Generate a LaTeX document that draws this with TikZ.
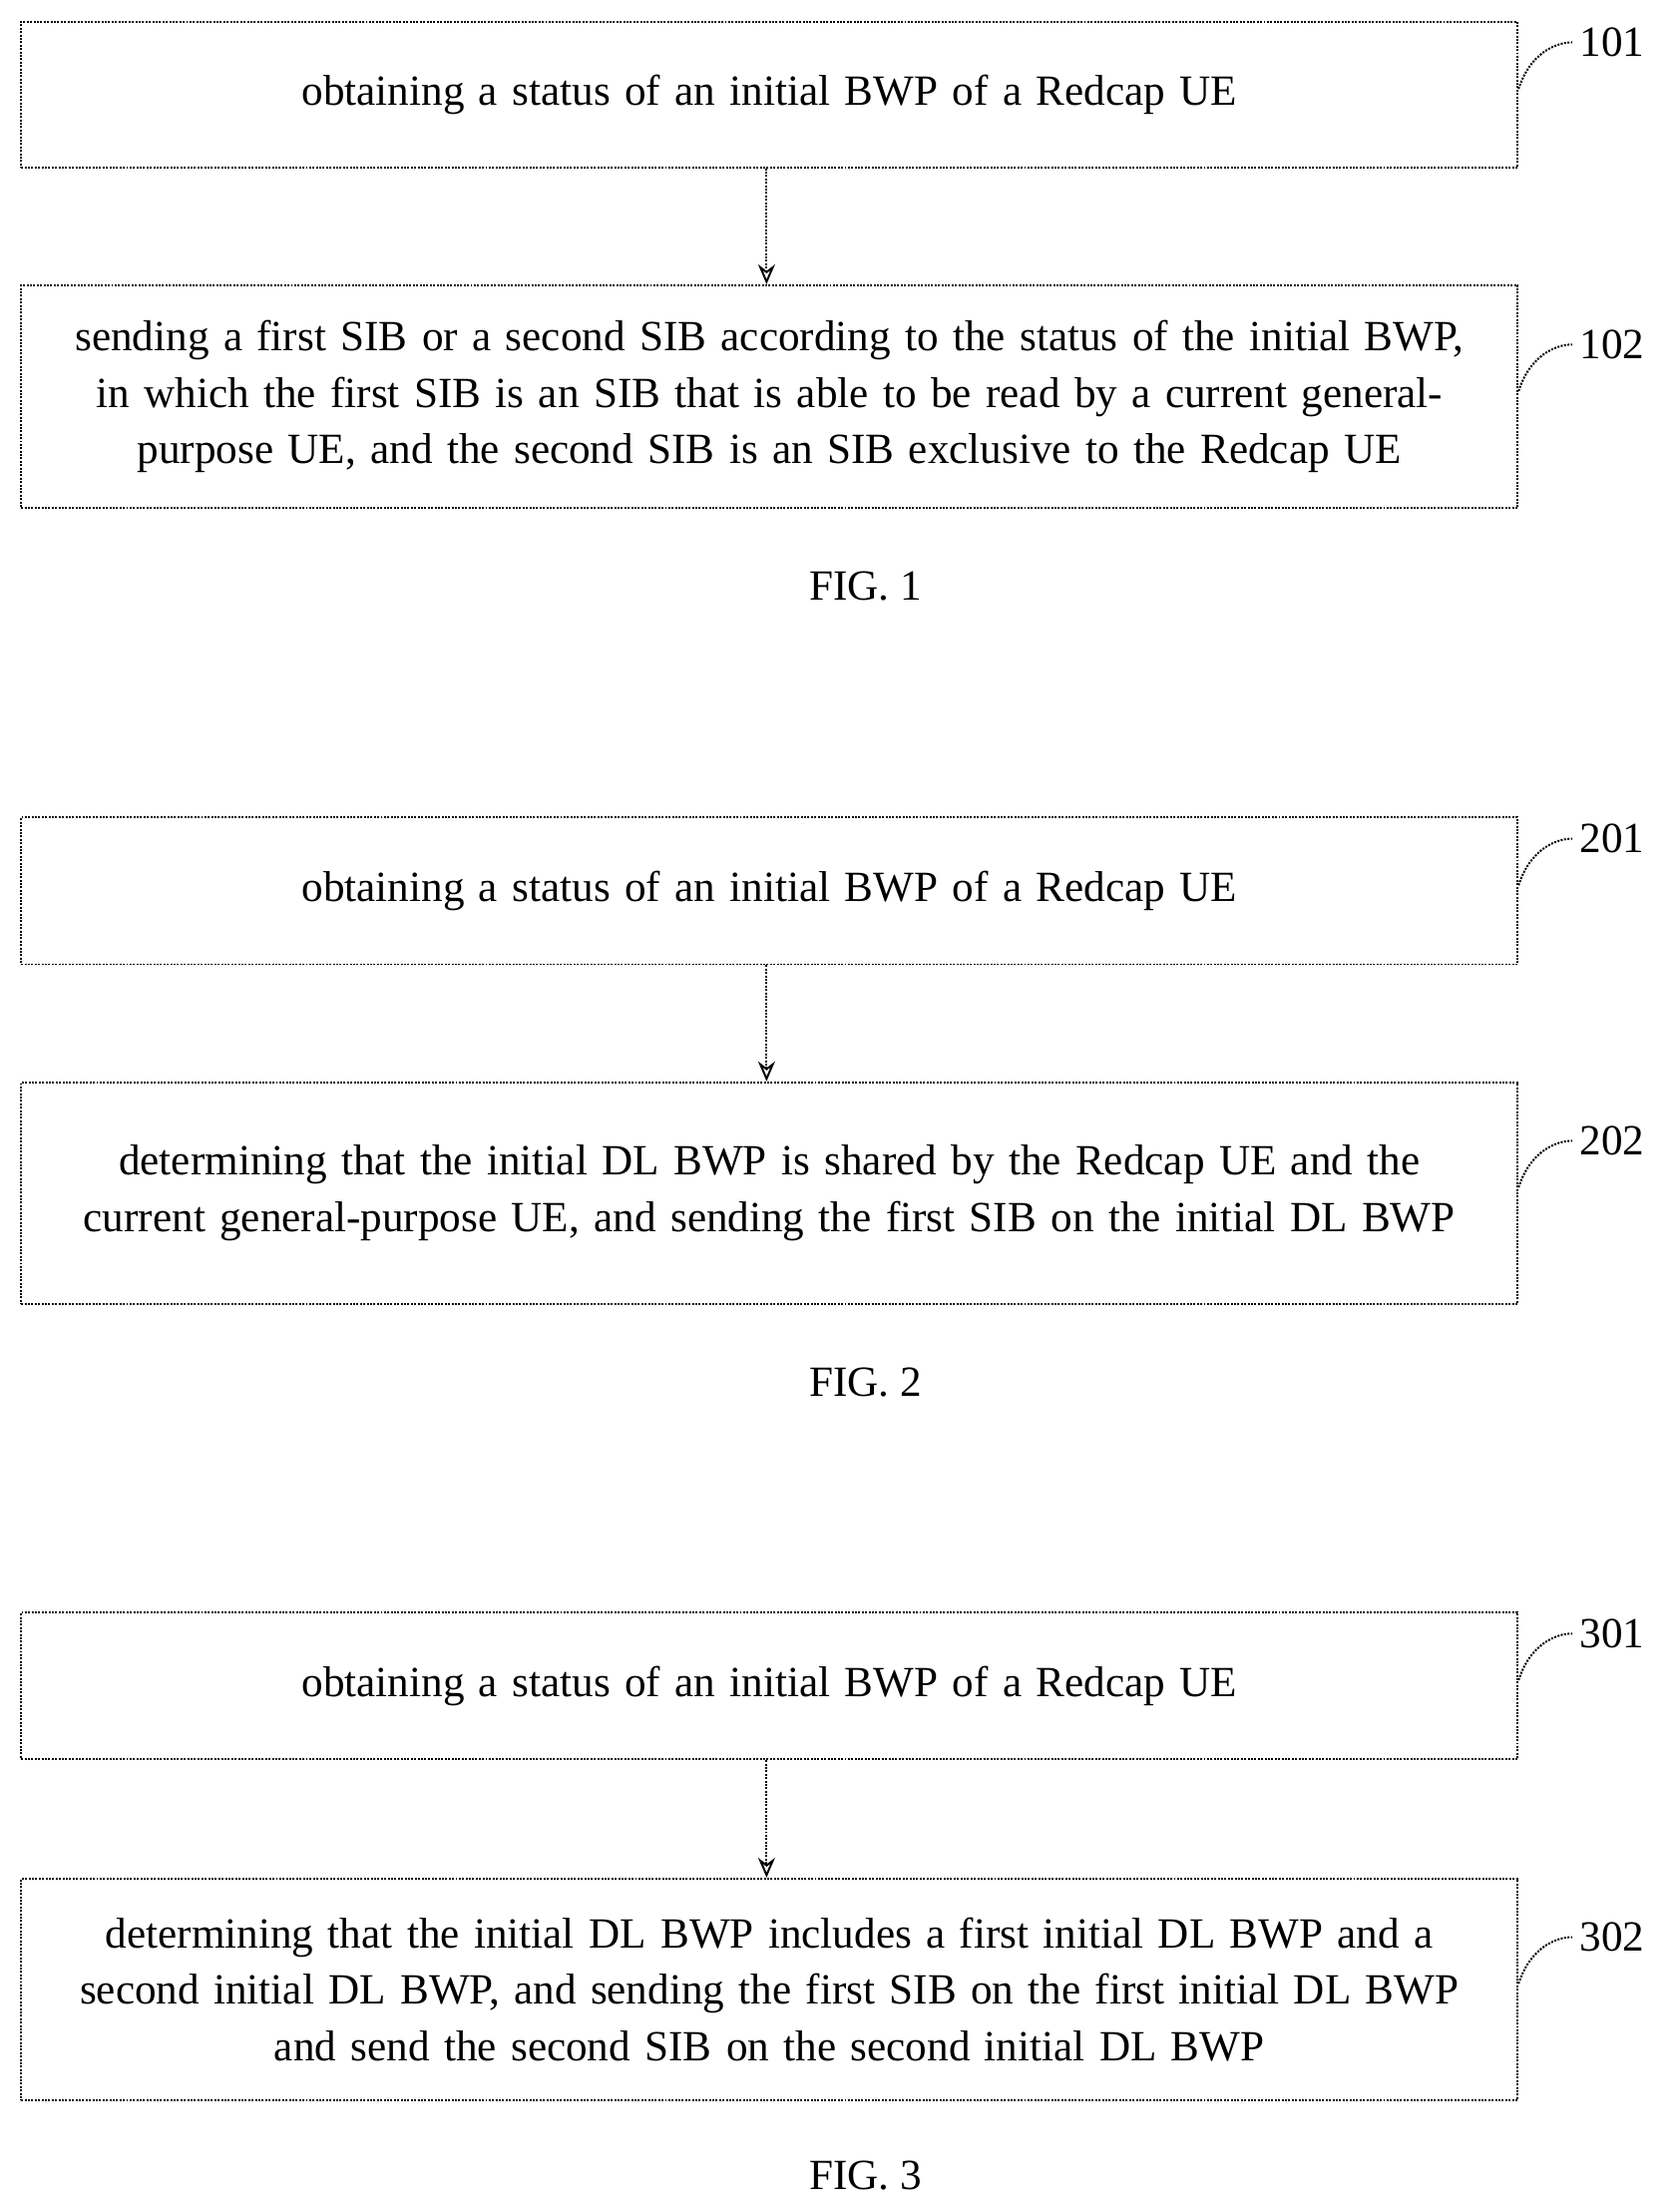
\documentclass[tikz,border=0pt]{standalone}
\usepackage{fontspec}
\setmainfont{Liberation Serif}
\usetikzlibrary{arrows.meta, positioning}
\tikzset{
  stepbox/.style={draw, densely dotted, line width=1.4pt, minimum width=1060pt, text width=1050pt, align=center, inner sep=0pt, font=\fontsize{30.5}{40}\selectfont},
  flow/.style={densely dotted, line width=1.4pt, -{Stealth[length=14pt,width=12pt,open]}},
  tag/.style={font=\fontsize{30.5}{34}\selectfont, anchor=west},
  figcap/.style={font=\fontsize{30.5}{34}\selectfont}
}
\newcommand{\steptag}[2]{%
  \draw[densely dotted, line width=1.4pt] (#1.east) ++(0,4pt) .. controls +(8pt,25pt) and +(-12pt,0pt) .. +(38pt,33pt) coordinate (#1t);
  \node[tag] at ([xshift=2pt]#1t) {#2};
}
\begin{document}
\begin{tikzpicture}[x=1pt,y=-1pt]
  \useasboundingbox (0,0) rectangle (1190,1566);
  % FIG. 1
  \node[stepbox, minimum height=103pt] (s101) at (545,67) {obtaining a status of an initial BWP of a Redcap UE};
  \node[stepbox, minimum height=158pt] (s102) at (545,281) {sending a first SIB or a second SIB according to the status of the initial BWP,\\ in which the first SIB is an SIB that is able to be read by a current general-\\purpose UE, and the second SIB is an SIB exclusive to the Redcap UE};
  \draw[flow] (s101.south -| 543,0) -- (s102.north -| 543,0);
  \steptag{s101}{101}
  \steptag{s102}{102}
  \node[figcap] (f1) at (613,415) {FIG. 1};
  % FIG. 2
  \node[stepbox, minimum height=104pt] (s201) at (545,631) {obtaining a status of an initial BWP of a Redcap UE};
  \node[stepbox, minimum height=157pt] (s202) at (545,845) {determining that the initial DL BWP is shared by the Redcap UE and the\\ current general-purpose UE, and sending the first SIB on the initial DL BWP};
  \draw[flow] (s201.south -| 543,0) -- (s202.north -| 543,0);
  \steptag{s201}{201}
  \steptag{s202}{202}
  \node[figcap] (f2) at (613,979) {FIG. 2};
  % FIG. 3
  \node[stepbox, minimum height=104pt] (s301) at (545,1194) {obtaining a status of an initial BWP of a Redcap UE};
  \node[stepbox, minimum height=157pt] (s302) at (545,1409) {determining that the initial DL BWP includes a first initial DL BWP and a\\ second initial DL BWP, and sending the first SIB on the first initial DL BWP\\ and send the second SIB on the second initial DL BWP};
  \draw[flow] (s301.south -| 543,0) -- (s302.north -| 543,0);
  \steptag{s301}{301}
  \steptag{s302}{302}
  \node[figcap] (f3) at (613,1541) {FIG. 3};
\end{tikzpicture}
\end{document}
